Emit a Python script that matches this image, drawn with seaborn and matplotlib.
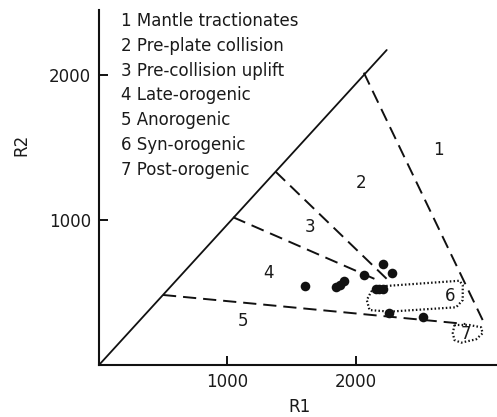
import matplotlib
matplotlib.use("Agg")
import matplotlib.pyplot as plt
import seaborn as sns
import pandas as pd

# ---- data (R1, R2 units) ----
sample_r1 = [1602, 1842, 1873, 1906, 2060, 2207, 2280, 2151, 2181, 2212, 2253, 2516]
sample_r2 = [547, 540, 552, 581, 621, 694, 632, 522, 522, 526, 361, 333]

diag_r1 = [12, 2237]
diag_r2 = [0, 2172]

bound1_r1 = [2060, 2979]
bound1_r2 = [2016, 310]
bound2_r1 = [1378, 2272]
bound2_r2 = [1333, 564]
bound3_r1 = [1049, 2181]
bound3_r2 = [1019, 579]
bound4_r1 = [507, 2845]
bound4_r2 = [483, 283]

field6_r1 = [2233, 2799, 2825, 2825, 2774, 2259, 2104, 2083, 2117, 2181, 2233]
field6_r2 = [545, 581, 552, 448, 398, 368, 379, 448, 506, 536, 545]
field7_r1 = [2761, 2748, 2761, 2812, 2928, 2979, 2967, 2876, 2761]
field7_r2 = [276, 219, 172, 154, 177, 219, 260, 276, 276]

field_ids = ["1", "2", "3", "4", "5", "6", "7"]
field_label_r1 = [2637, 2040, 1641, 1324, 1126, 2727, 2846]
field_label_r2 = [1483, 1253, 954, 632, 306, 476, 212]

legend_lines = [
    "1 Mantle tractionates",
    "2 Pre-plate collision",
    "3 Pre-collision uplift",
    "4 Late-orogenic",
    "5 Anorogenic",
    "6 Syn-orogenic",
    "7 Post-orogenic",
]

x_ticks = [1000, 2000]
y_ticks = [1000, 2000]

# ---- style ----
sns.set_style("ticks")
plt.rcParams["font.family"] = ["DejaVu Sans"]
plt.rcParams["lines.scale_dashes"] = False

fig = plt.figure(figsize=(4.97, 4.17), dpi=100)
ax = fig.add_axes([99 / 497, (417 - 365) / 417, 1 - 99 / 497, (365 - 10) / 417])

ink = "#111111"
txt = "#1a1a1a"

def poly(xs, ys, **kw):
    df = pd.DataFrame({"x": xs, "y": ys})
    sns.lineplot(data=df, x="x", y="y", sort=False, estimator=None, ax=ax,
                 legend=False, **kw)

poly(diag_r1, diag_r2, color=ink, linewidth=1.3)
for bx, by in [(bound1_r1, bound1_r2), (bound2_r1, bound2_r2),
               (bound3_r1, bound3_r2), (bound4_r1, bound4_r2)]:
    poly(bx, by, color=ink, linewidth=1.4, linestyle=(0, (9.5, 5)))
for fx, fy in [(field6_r1, field6_r2), (field7_r1, field7_r2)]:
    poly(fx, fy, color=ink, linewidth=1.6, linestyle=(0, (1.1, 1.6)))

pts = pd.DataFrame({"R1": sample_r1, "R2": sample_r2})
sns.scatterplot(data=pts, x="R1", y="R2", ax=ax, color=ink, s=48,
                edgecolor=ink, linewidth=0, zorder=5)

for lab, lx, ly in zip(field_ids, field_label_r1, field_label_r2):
    ax.text(lx, ly, lab, fontsize=12, color=txt, ha="center", va="center")

for i, line in enumerate(legend_lines):
    fig.text(121 / 497, 1 - (25.7 + 24.9 * i) / 417, line, fontsize=12,
             color=txt, ha="left", va="baseline")

ax.set_xlim(12, 3090)
ax.set_ylim(0, 2448)
ax.set_xticks(x_ticks)
ax.set_yticks(y_ticks)
ax.tick_params(direction="in", length=6.5, width=1.4, labelsize=12,
               colors=ink, labelcolor=txt, pad=5.5)
for s in ["top", "right"]:
    ax.spines[s].set_visible(False)
for s in ["left", "bottom"]:
    ax.spines[s].set_linewidth(1.5)
    ax.spines[s].set_color(ink)

ax.set_xlabel("")
ax.set_ylabel("")
fig.text(299 / 497, 1 - 407 / 417, "R1", fontsize=12, color=txt,
         ha="center", va="center")
fig.text(21.5 / 497, 1 - 145 / 417, "R2", fontsize=12, color=txt,
         ha="center", va="center", rotation=90)

fig.savefig("out.png", dpi=100, facecolor="white")
